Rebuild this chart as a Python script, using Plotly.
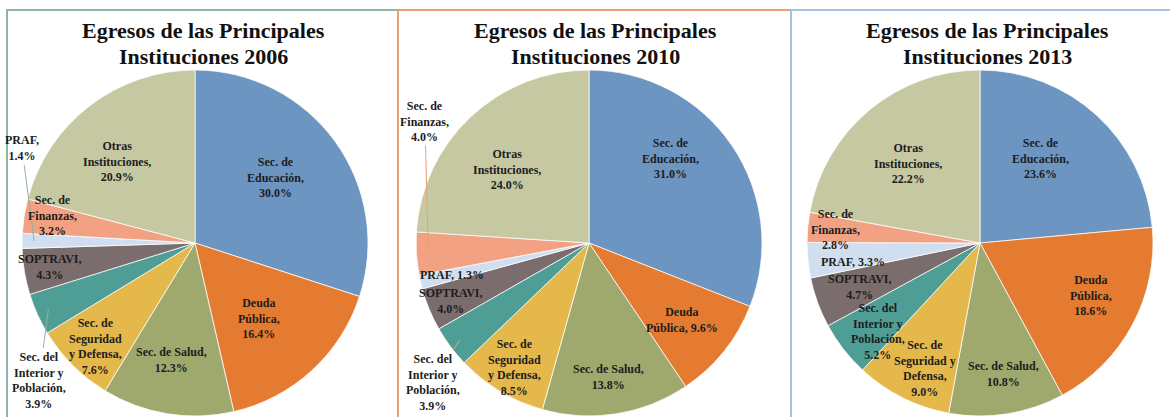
import math

import plotly.graph_objects as go

W, H = 1170, 417

# --- data -------------------------------------------------------------------
INSTITUTIONS = [
    "Sec. de Educación", "Deuda Pública", "Sec. de Salud",
    "Sec. de Seguridad y Defensa", "Sec. del Interior y Población",
    "SOPTRAVI", "PRAF", "Sec. de Finanzas", "Otras Instituciones",
]
YEARS = ["2006", "2010", "2013"]
VALUES_2006 = [30.0, 16.4, 12.3, 7.6, 3.9, 4.3, 1.4, 3.2, 20.9]
VALUES_2010 = [31.0, 9.6, 13.8, 8.5, 3.9, 4.0, 1.3, 4.0, 24.0]
VALUES_2013 = [23.6, 18.6, 10.8, 9.0, 5.2, 4.7, 3.3, 2.8, 22.2]

# label text as it wraps in each chart (name part, then separator before value)
NAMES_2006 = ["Sec. de<br>Educación,", "Deuda<br>Pública,", "Sec. de Salud,",
              "Sec. de<br>Seguridad<br>y Defensa,", "Sec. del<br>Interior y<br>Población,",
              "SOPTRAVI,", "PRAF,", "Sec. de<br>Finanzas,", "Otras<br>Instituciones,"]
NAMES_2010 = ["Sec. de<br>Educación,", "Deuda<br>Pública,", "Sec. de Salud,",
              "Sec. de<br>Seguridad<br>y Defensa,", "Sec. del<br>Interior y<br>Población,",
              "SOPTRAVI,", "PRAF,", "Sec. de<br>Finanzas,", "Otras<br>Instituciones,"]
NAMES_2013 = ["Sec. de<br>Educación,", "Deuda<br>Pública,", "Sec. de Salud,",
              "Sec. de<br>Seguridad y<br>Defensa,", "Sec. del<br>Interior y<br>Población,",
              "SOPTRAVI,", "PRAF,", "Sec. de<br>Finanzas,", "Otras<br>Instituciones,"]
SEP_2006 = ["<br>"] * 9
SEP_2010 = ["<br>", " ", "<br>", "<br>", "<br>", "<br>", " ", "<br>", "<br>"]
SEP_2013 = ["<br>", "<br>", "<br>", "<br>", "<br>", "<br>", " ", "<br>", "<br>"]

TITLE_LINES = ["Egresos de las Principales", "Instituciones {year}"]

# --- style ------------------------------------------------------------------
COLORS = ["#6d95c2", "#e47b30", "#9fa86d", "#e5b84c", "#4f9e96",
          "#7b6d6e", "#cfdff0", "#f2a282", "#c6c8a2"]
PANEL_COLORS = ["#8fb3ad", "#e9a175", "#a8c2da"]
PANEL_X = [7, 398, 791, 1176]
CENTERS_X = [195, 589, 980]
TITLE_X = [203, 595, 987]
TITLE_Y = [31, 56]
CY, R = 243, 173
FONT = "Liberation Serif"

# label placement: radius as fraction of R, angle nudge in degrees
LABEL_R = [
    [0.60, 0.57, 0.69, 0.83, 1.20, 0.85, 1.14, 0.84, 0.65],
    [0.68, 0.70, 0.78, 0.84, 1.21, 0.87, 0.81, 1.18, 0.64],
    [0.60, 0.71, 0.77, 0.79, 0.78, 0.74, 0.74, 0.84, 0.62],
]
LABEL_NUDGE = [
    [-3, 2, 2, -1, -17, 0, 28, 2, -6],
    [-12, 1, 1, 0, -5, 0, 0, 40, -5],
    [-7, -3, -1, -3, -3, 0, -3, 0, -2],
]

values_by_year = [VALUES_2006, VALUES_2010, VALUES_2013]
names_by_year = [NAMES_2006, NAMES_2010, NAMES_2013]
seps_by_year = [SEP_2006, SEP_2010, SEP_2013]


def px(x, y):
    return x / W, 1 - y / H


def polar(cx, ang, r):
    a = math.radians(ang)
    return cx + r * math.sin(a), CY - r * math.cos(a)


fig = go.Figure()
shapes = []
annotations = []

for i, year in enumerate(YEARS):
    vals = values_by_year[i]
    cx = CENTERS_X[i]
    fig.add_trace(go.Pie(
        labels=INSTITUTIONS, values=vals, sort=False, direction="clockwise",
        marker=dict(colors=COLORS, line=dict(color="rgba(255,255,255,0.75)", width=1)),
        textinfo="none", hoverinfo="label+percent", showlegend=False,
        domain=dict(x=[(cx - R) / W, (cx + R) / W], y=[1 - (CY + R) / H, 1 - (CY - R) / H]),
    ))

    shapes.append(dict(type="rect", xref="paper", yref="paper",
                       x0=PANEL_X[i] / W, x1=PANEL_X[i + 1] / W, y0=-0.05, y1=1 - 10 / H,
                       line=dict(color=PANEL_COLORS[i], width=2)))

    for line, ly in zip(TITLE_LINES, TITLE_Y):
        tx, ty = px(TITLE_X[i], ly)
        annotations.append(dict(
            x=tx, y=ty, xref="paper", yref="paper", showarrow=False,
            xanchor="center", yanchor="middle", text=line.format(year=year),
            font=dict(family=FONT, size=22, color="#111", weight="bold"),
        ))

    total = sum(vals)
    cum = 0.0
    for j, v in enumerate(vals):
        mid = (cum + v / 2) / total * 360
        cum += v
        text = f"{names_by_year[i][j]}{seps_by_year[i][j]}{v:.1f}%"
        rf = LABEL_R[i][j]
        lx, ly = polar(cx, mid + LABEL_NUDGE[i][j], rf * R)
        font = dict(family=FONT, size=12, color="#1d1d1d", weight="bold")
        if rf > 1:
            # outside label with a leader line back to its slice
            tipx, tipy = polar(cx, mid, 0.93 * R)
            ax_, ay_ = px(tipx, tipy)
            annotations.append(dict(
                x=ax_, y=ay_, xref="paper", yref="paper", text=text, font=font,
                showarrow=True, arrowhead=0, arrowwidth=1, arrowcolor=PANEL_COLORS[i],
                ax=lx - tipx, ay=ly - tipy, standoff=0,
            ))
        else:
            ax_, ay_ = px(lx, ly)
            annotations.append(dict(x=ax_, y=ay_, xref="paper", yref="paper",
                                    xanchor="center", yanchor="middle",
                                    text=text, font=font, showarrow=False))

fig.update_layout(
    width=W, height=H, margin=dict(l=0, r=0, t=0, b=0),
    paper_bgcolor="white", plot_bgcolor="white",
    shapes=shapes, annotations=annotations,
)

fig.write_html(
    "out.html",
    config={"displayModeBar": False},
    post_script="document.body.style.margin='0';document.body.style.overflow='hidden';",
)
